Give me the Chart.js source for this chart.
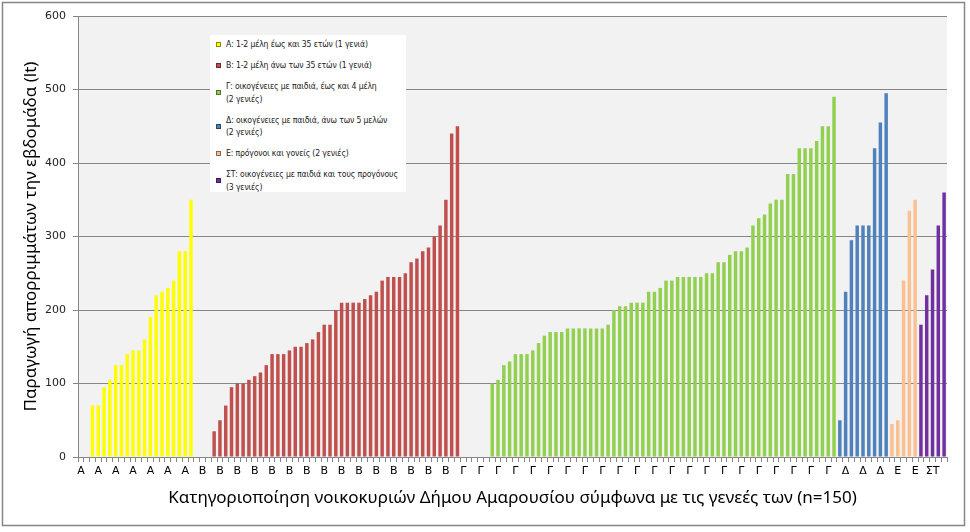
<!DOCTYPE html>
<html lang="el">
<head>
<meta charset="UTF-8">
<title>Παραγωγή απορριμμάτων ανά κατηγορία νοικοκυριού</title>
<script src="https://cdn.jsdelivr.net/npm/chart.js"></script>
<style>
  body { margin: 0; background: #fff; }
  #wrap { position: relative; width: 970px; height: 532px; }
  #legend {
    position: absolute; left: 210px; top: 35px; width: 196px; height: 157px;
    background: #fff; box-sizing: border-box; padding-top: 3px; overflow: hidden;
    font-family: "Liberation Sans Narrow", "DejaVu Sans Condensed", sans-serif;
    font-stretch: condensed; font-size: 8.6px; letter-spacing: -0.15px; color: #222;
  }
  .item { display: flex; align-items: center; margin-bottom: 8.5px; }
  .mark { width: 5px; height: 5px; margin: 0 5px 0 6px; border: 1px solid rgba(0,0,0,0.45); box-sizing: border-box; flex: none; }
  .txt { line-height: 12.5px; white-space: pre; }
</style>
</head>
<body>
<div id="wrap">
  <canvas id="chart" width="970" height="532"></canvas>
  <div id="legend"></div>
</div>
<script>
// values per household group, sorted as in the original sheet (0 = no bar)
const groupA = [0, 0, 70, 70, 95, 105, 125, 125, 140, 145, 145, 160, 190, 220, 225, 230, 240, 280, 280, 350, 0];
const groupB = [0, 0, 35, 50, 70, 95, 100, 100, 105, 110, 115, 125, 140, 140, 140, 145, 150, 150, 155, 160, 170, 180,
  180, 200, 210, 210, 210, 210, 215, 220, 225, 240, 245, 245, 245, 250, 265, 270, 280, 285, 300, 315, 350, 440, 450];
const groupG = [0, 0, 0, 0, 0, 100, 105, 125, 130, 140, 140, 140, 145, 155, 165, 170, 170, 170, 175, 175, 175, 175,
  175, 175, 175, 180, 200, 205, 205, 210, 210, 210, 225, 225, 230, 240, 240, 245, 245, 245, 245, 245, 250, 250, 265,
  265, 275, 280, 280, 285, 315, 325, 330, 345, 350, 350, 385, 385, 420, 420, 420, 430, 450, 450, 490];
const groupD = [50, 225, 295, 315, 315, 315, 420, 455, 495];
const groupE = [45, 50, 240, 335, 350];
const groupST = [180, 220, 255, 315, 360];

const groupLetters = ['Α', 'Β', 'Γ', 'Δ', 'Ε', 'ΣΤ'];
const groupNames = [
  'Α: 1-2 μέλη έως και 35 ετών (1 γενιά)',
  'Β: 1-2 μέλη άνω των 35 ετών (1 γενιά)',
  'Γ: οικογένειες με παιδιά, έως και 4 μέλη\n(2 γενιές)',
  'Δ: οικογένειες με παιδιά, άνω των 5 μελών\n(2 γενιές)',
  'Ε: πρόγονοι και γονείς (2 γενιές)',
  'ΣΤ: οικογένειες με παιδιά και τους προγόνους\n(3 γενιές)'
];
const groupColors = ['#ffff00', '#c0504d', '#92d050', '#4f81bd', '#fac090', '#7030a0'];
const yTicks = [0, 100, 200, 300, 400, 500, 600];

const xTitle = 'Κατηγοριοποίηση νοικοκυριών Δήμου Αμαρουσίου σύμφωνα με τις γενεές των (n=150)';
const yTitle = 'Παραγωγή απορριμμάτων την εβδομάδα (lt)';

const groups = [groupA, groupB, groupG, groupD, groupE, groupST];
const labels = [];
groups.forEach((g, i) => g.forEach(() => labels.push(groupLetters[i])));

let start = 0;
const datasets = groups.map((g, i) => {
  const data = labels.map(() => null);
  g.forEach((v, j) => { data[start + j] = v; });
  start += g.length;
  return { label: groupNames[i], data: data, backgroundColor: groupColors[i], borderWidth: 0 };
});

// legend box inside the plot
const legendEl = document.getElementById('legend');
groupNames.forEach((name, i) => {
  const row = document.createElement('div');
  row.className = 'item';
  const m = document.createElement('span');
  m.className = 'mark';
  m.style.background = groupColors[i];
  const t = document.createElement('div');
  t.className = 'txt';
  t.textContent = name;
  row.appendChild(m);
  row.appendChild(t);
  legendEl.appendChild(row);
});

const frame = {
  id: 'frame',
  beforeDraw(chart) {
    const c = chart.ctx, a = chart.chartArea;
    c.save();
    c.fillStyle = '#fff';
    c.fillRect(0, 0, chart.width, chart.height);
    c.fillStyle = '#f2f2f2';
    c.fillRect(a.left, a.top, a.right - a.left, a.bottom - a.top);
    c.strokeStyle = '#868686';
    c.lineWidth = 1.5;
    c.strokeRect(2.5, 2.5, 962, 523);
    c.restore();
  }
};

const tickFont = { family: 'DejaVu Sans', size: 11 };
const titleFont = { family: 'Noto Sans', size: 17 };

new Chart(document.getElementById('chart'), {
  type: 'bar',
  data: { labels: labels, datasets: datasets },
  options: {
    responsive: false,
    animation: false,
    layout: { padding: { top: 16, right: 23, left: 0, bottom: 0 } },
    plugins: { legend: { display: false }, tooltip: { enabled: false } },
    datasets: { bar: { barPercentage: 0.6, categoryPercentage: 1 } },
    scales: {
      x: {
        stacked: true,
        offset: true,
        grid: { offset: true, drawOnChartArea: false, drawTicks: true, tickLength: 5, color: '#868686' },
        border: { color: '#868686' },
        ticks: {
          autoSkip: false, maxRotation: 0, minRotation: 0, padding: 3, color: '#000', font: tickFont,
          callback: (v, i) => (i % 3 === 0 ? labels[i] : '')
        },
        title: { display: true, text: xTitle, color: '#000', font: titleFont, padding: { top: 0, bottom: 24 } },
        afterFit: s => { s.height = 75; }
      },
      y: {
        stacked: true,
        min: 0,
        max: 600,
        afterBuildTicks: s => { s.ticks = yTicks.map(v => ({ value: v })); },
        grid: { color: '#868686', tickLength: 5 },
        border: { color: '#868686' },
        ticks: { padding: 7, color: '#222', font: tickFont },
        title: { display: true, text: yTitle, color: '#000', font: titleFont, padding: { top: 21, bottom: 0 } },
        afterFit: s => { s.width = 78; }
      }
    }
  },
  plugins: [frame]
});
</script>
</body>
</html>
